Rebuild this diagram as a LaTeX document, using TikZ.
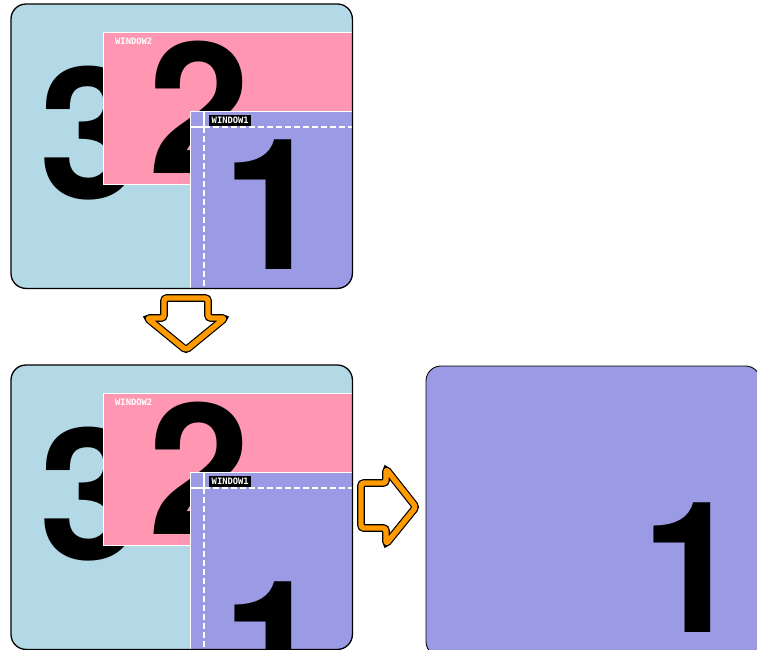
\documentclass[tikz,border=0pt]{standalone}
\usepackage{fontspec}
\setmainfont{Liberation Sans}
\newfontfamily\pixfont{DejaVu Sans Mono}
\newfontfamily\bigfont{TeX Gyre Heros}
\usepackage{tikz}
\usetikzlibrary{positioning, calc}
\definecolor{WM_DESK}{HTML}{B3D8E6}
\definecolor{WM_PINK}{HTML}{FF97B3}
\definecolor{WM_PURPLE}{HTML}{9B9AE4}
\definecolor{WM_ORANGE}{HTML}{FF9A00}
\tikzset{
  desk/.style={
    rectangle, rounded corners=15pt, inner sep=0pt,
    anchor=north west, fill=WM_DESK},
  deskline/.style={rounded corners=15pt, line width=1.3pt, draw=black},
  winpink/.style={
    rectangle, inner sep=0pt, anchor=north west,
    fill=WM_PINK, draw=white, line width=1pt},
  winblue/.style={
    rectangle, inner sep=0pt, anchor=north west,
    fill=WM_PURPLE, draw=white, line width=1pt},
  digit/.style={
    inner sep=0pt, anchor=base,
    font=\bigfont\bfseries\fontsize{183}{183}\selectfont},
  tag/.style={
    inner xsep=2.5pt, inner ysep=2pt, anchor=north west,
    fill=black, text=white, font=\pixfont\bfseries\fontsize{8.8}{8.8}\selectfont},
  bare/.style={
    inner sep=0pt, anchor=north west,
    text=white, font=\pixfont\bfseries\fontsize{8.8}{8.8}\selectfont},
  guide/.style={draw=white, line width=1.1pt},
  bigarrow/.style={
    rounded corners=3pt, line join=round, draw=WM_ORANGE, line width=5.4pt,
    preaction={fill=white, draw=black, line width=7.8pt}},
}

\begin{document}
\begin{tikzpicture}[x=1pt, y=-1pt]
  \useasboundingbox (0,0) rectangle (757,649);

  % before (a) and after (b) raising window 1
  \foreach \n/\dy/\one in {a/0/269, b/361/711} {
    \begin{scope}[shift={(0,\dy)}]
      \node[desk, minimum width=341, minimum height=284] (desk\n) at (11,4) {};
      \begin{scope}
        \clip[rounded corners=15pt] (desk\n.south west) rectangle (desk\n.north east);
        \node[digit] (three\n) at (90,198) {3};
        \node[winpink, minimum width=250, minimum height=152] (wtwo\n) at (103,32) {};
        \node[bare] (ltwo\n) at ($(wtwo\n.north west)+(12,6)$) {WINDOW2};
        \node[digit] (two\n) at (199,173) {2};
        \node[winblue, minimum width=164, minimum height=178] (wone\n) at (190,111) {};
        \begin{scope}
          \clip (wone\n.south west) rectangle (wone\n.north east);
          \node[digit] (one\n) at (273,\one-\dy) {1};
        \end{scope}
        \draw[guide] ($(wone\n.north west)+(14,0)$) -- ($(wone\n.north west)+(14,16)$)
          -- ($(wone\n.north west)+(0,16)$);
        \draw[guide, dash pattern=on 6pt off 3pt] ($(wone\n.north west)+(14,16)$)
          -- ($(wone\n.north east)+(0,16)$);
        \draw[guide, dash pattern=on 6pt off 3pt] ($(wone\n.north west)+(14,16)$)
          -- ($(wone\n.south west)+(14,0)$);
        \node[tag] (lone\n) at ($(wone\n.north west)+(19,4)$) {WINDOW1};
      \end{scope}
      \draw[deskline] (desk\n.south west) rectangle (desk\n.north east);
    \end{scope}
  }

  % window 1 alone
  \node[desk, fill=WM_PURPLE, minimum width=334, minimum height=290] (solo) at (426,366) {};
  \draw[deskline, line width=0.9pt] (solo.south west) rectangle (solo.north east);
  \node[digit] (onec) at (692,632) {1};

  % block arrows
  \coordinate (down) at (186,298);
  \draw[bigarrow] (down) -- ++(22,0) -- ++(0,20) -- ++(17,0) -- ++(-39,32)
    -- ++(-39,-32) -- ++(17,0) -- ++(0,-20) -- cycle;
  \coordinate (across) at (361,506);
  \draw[bigarrow] (across) -- ++(0,-23) -- ++(25,0) -- ++(0,-14) -- ++(30,38)
    -- ++(-30,37) -- ++(0,-16) -- ++(-25,0) -- cycle;

\end{tikzpicture}
\end{document}
